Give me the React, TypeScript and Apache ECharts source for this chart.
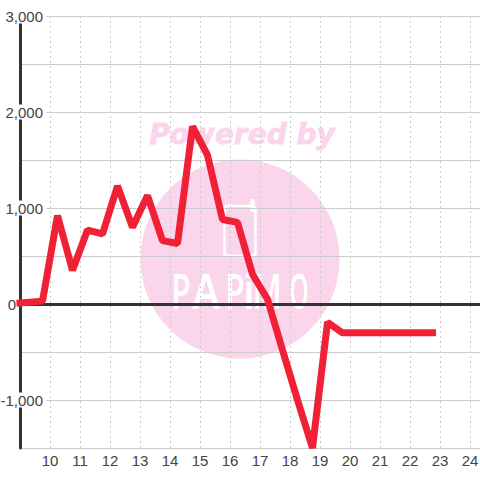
import React, { useEffect, useRef } from "react";
import * as echarts from "echarts";

const hours = [9, 9.75, 10.25, 10.75, 11.25, 11.75, 12.25, 12.75, 13.25, 13.75, 14.25, 14.75, 15.25, 15.75, 16.25, 16.75, 17.25, 17.75, 18.25, 18.75, 19.25, 19.75, 20.25, 20.75, 21.25, 21.75, 22.25, 22.75];
const balance = [10, 30, 920, 350, 770, 730, 1230, 800, 1130, 660, 630, 1850, 1550, 880, 850, 310, 50, -480, -1000, -1500, -190, -300, -300, -300, -300, -300, -300, -300];
const poweredBy = "Powered by";
const brandLetters = ["P", "A", "P", "i", "M", "O"];
const brandX = [181, 206, 235, 249, 267, 299];
const brandScale = [0.72, 0.95, 0.72, 1, 0.72, 0.55];

const INK = "#444444";
const AXIS = "#333333";
const GRID = "#cccccc";
const PINK = "#fbd5ec";

const num = (v: number) => v.toLocaleString("en-US");

export default function App() {
  const ref = useRef<HTMLDivElement>(null);
  useEffect(() => {
    const chart = echarts.init(ref.current!, undefined, { renderer: "svg" });
    const xBase = {
      type: "value" as const,
      min: 9,
      max: 9 + 460 / 30,
      interval: 1,
    };
    chart.setOption({
      animation: false,
      backgroundColor: "#ffffff",
      grid: { left: 20, right: 0, top: 16, bottom: 32, containLabel: false, outerBoundsMode: "none" },
      graphic: {
        elements: [
          { type: "circle", z: -10, silent: true, shape: { cx: 240, cy: 259, r: 99.5 }, style: { fill: PINK } },
          {
            type: "text", z: -10, silent: true, x: 242, y: 134,
            style: { text: poweredBy, fill: PINK, stroke: PINK, lineWidth: 0.8, font: "italic bold 28px 'DejaVu Sans'", align: "center", verticalAlign: "middle" },
          },
          {
            type: "rect", z: -9, silent: true,
            shape: { x: 224.5, y: 206, width: 31, height: 50, r: 3 },
            style: { fill: "none", stroke: "#ffffff", lineWidth: 2.5 },
          },
          {
            type: "line", z: -9, silent: true,
            shape: { x1: 252.5, y1: 201, x2: 252.5, y2: 210 },
            style: { stroke: "#ffffff", lineWidth: 4.5, lineCap: "round" },
          },
          ...brandLetters.map((t, i) => ({
            type: "text", z: -9, silent: true, x: brandX[i], y: 290, scaleX: brandScale[i], scaleY: 1.12,
            style: { text: t, fill: "#ffffff", font: "600 44px 'Open Sans'", align: "center", verticalAlign: "middle" },
          })),
        ],
      },
      xAxis: [
        {
          ...xBase,
          axisLine: { show: false, onZero: false },
          axisTick: { show: false },
          splitLine: { show: true, lineStyle: { color: GRID, type: [2, 3], width: 1 } },
          axisLabel: {
            color: INK, fontSize: 15, fontFamily: "'Liberation Sans'", margin: 5,
            showMinLabel: false, showMaxLabel: false,
            formatter: (v: number) => (Number.isInteger(v) ? String(v) : ""),
          },
        },
        {
          ...xBase,
          position: "top",
          axisLine: { show: true, onZero: true, onZeroAxisIndex: 0, lineStyle: { color: AXIS, width: 3 } },
          axisTick: { show: false },
          splitLine: { show: false },
          axisLabel: { show: false },
        },
      ],
      yAxis: {
        type: "value",
        min: -1500,
        max: 3000,
        interval: 500,
        axisLine: { show: true, onZero: false, lineStyle: { color: AXIS, width: 3 } },
        axisTick: { show: false },
        splitLine: { show: true, lineStyle: { color: GRID, width: 1 } },
        axisLabel: {
          margin: -26,
          color: INK,
          fontSize: 15,
          fontFamily: "'Liberation Sans'",
          formatter: (v: number) => {
            if (v === 0) return "{z|0}";
            return v % 1000 === 0 ? `{n|${num(v)}}` : "";
          },
          rich: {
            n: { backgroundColor: "#ffffff", padding: [0, 3, 0, 3], color: INK, fontSize: 15, fontFamily: "'Liberation Sans'", height: 15, lineHeight: 15 },
            z: { padding: [0, 30, 0, 0], color: INK, fontSize: 15, fontFamily: "'Liberation Sans'" },
          },
        },
      },
      series: [
        {
          type: "line",
          xAxisIndex: 0,
          data: hours.map((h, i) => [h, balance[i]]),
          showSymbol: false,
          symbol: "none",
          clip: false,
          z: 5,
          lineStyle: { color: "#f02035", width: 7, cap: "square", join: "bevel" },
        },
      ],
    });
    return () => chart.dispose();
  }, []);
  return <div ref={ref} style={{ position: "fixed", left: 0, top: 0, width: 480, height: 480 }} />;
}
